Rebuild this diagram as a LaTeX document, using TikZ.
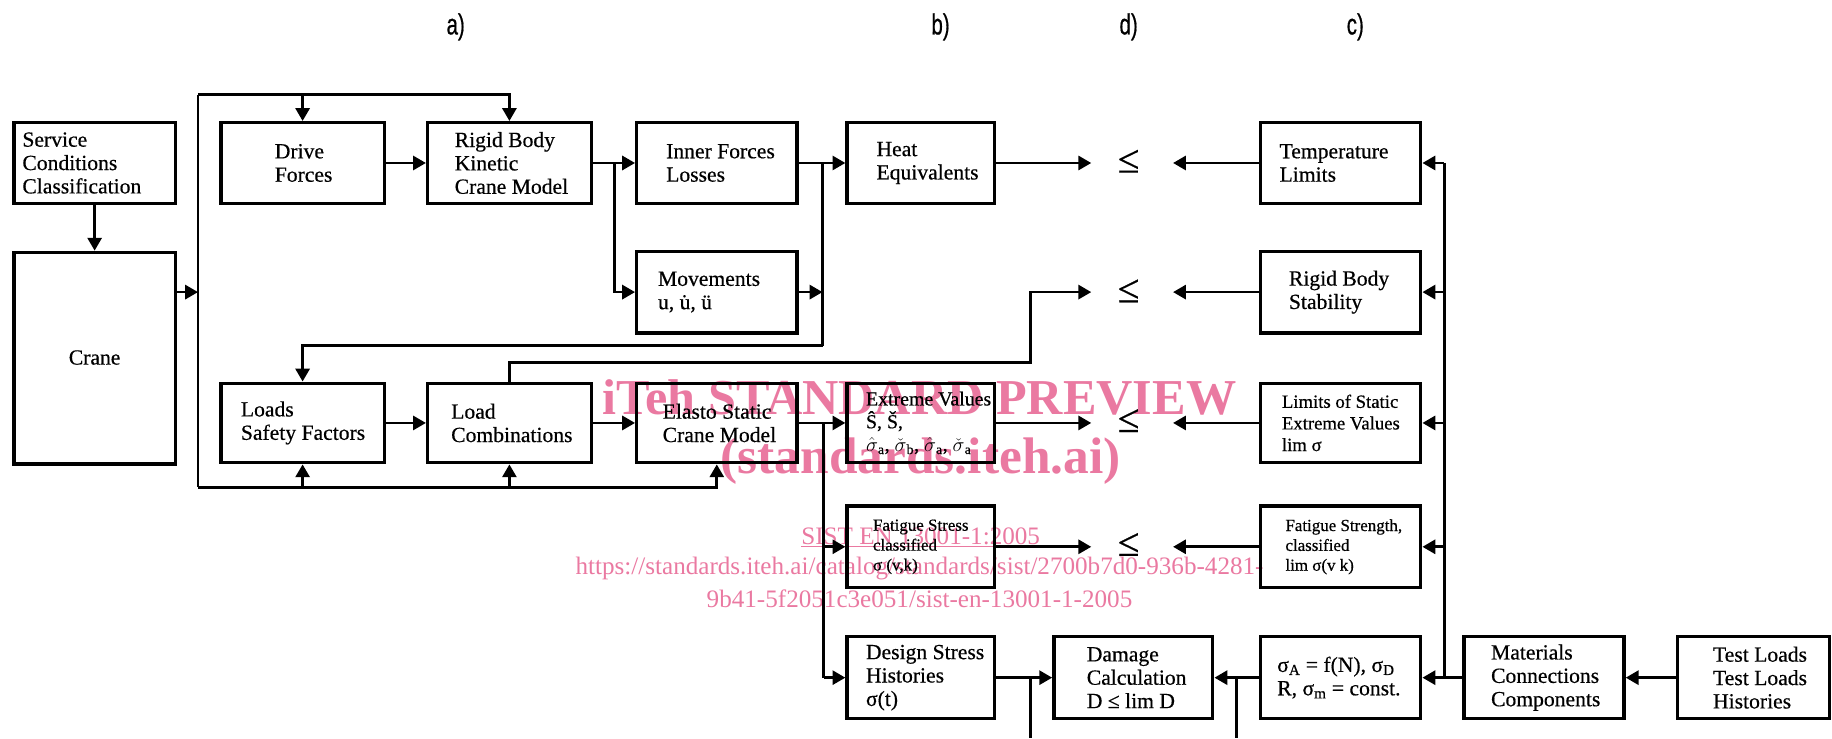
\documentclass[tikz,border=0pt]{standalone}
\usepackage{fontspec}
\setmainfont{Liberation Serif}[FakeBold=0.5]
\newfontfamily\wmfont{Liberation Serif}
\newfontfamily\labelfont{Liberation Sans}[FakeBold=0.8]
\usetikzlibrary{arrows.meta,fit}
\definecolor{wm}{RGB}{234,121,161}
\newcommand\hs{\ensuremath{\hat{\sigma}}}
\newcommand\cs{\ensuremath{\check{\sigma}}}
\tikzset{
  box/.style={draw, line width=2.9pt, inner sep=0pt},
  txt/.style={anchor=west, align=left, inner sep=0pt, font=\fontsize{18.5}{20}\selectfont},
  mid/.style={font=\fontsize{17}{19.5}\selectfont},
  small/.style={font=\fontsize{16}{18.5}\selectfont},
  tiny/.style={font=\fontsize{14.5}{17}\selectfont},
  conn/.style={line width=2.4pt},
  arr/.style={conn, -{Triangle[length=11pt,width=12pt]}},
  leq/.style={font=\fontsize{34}{34}\selectfont, inner sep=0pt},
  lab/.style={font=\labelfont\fontsize{25}{25}\selectfont, xscale=0.7, inner sep=0pt},
  wmark/.style={text=wm, inner sep=0pt, anchor=base},
}
\begin{document}
\begin{tikzpicture}[x=1pt,y=-1pt]
\useasboundingbox (0,0) rectangle (1568,632);
% watermark
\node[wmark, font=\wmfont\bfseries\fontsize{43}{43}\selectfont] (wm1) at (787,355) {iTeh STANDARD PREVIEW};
\node[wmark, font=\wmfont\bfseries\fontsize{44}{44}\selectfont] (wm2) at (788,405) {(standards.iteh.ai)};
\node[wmark, font=\wmfont\fontsize{21.5}{21.5}\selectfont] (wm3) at (788,466) {\underline{SIST EN 13001-1:2005}};
\node[wmark, font=\wmfont\fontsize{21.5}{21.5}\selectfont] (wm4) at (787,492) {https://standards.iteh.ai/catalog/standards/sist/2700b7d0-936b-4281-};
\node[wmark, font=\wmfont\fontsize{21.5}{21.5}\selectfont] (wm5) at (787,519.6) {9b41-5f2051c3e051/sist-en-13001-1-2005};
% column labels
\node[lab] (la) at (390,23) {a)};
\node[lab] (lb) at (805,23) {b)};
\node[lab] (ld) at (966,23) {d)};
\node[lab] (lc) at (1160,23) {c)};
% boxes
\node[box, fit={(12,105) (150,174)}] (service) {};
\node[box, fit={(12,216) (150,397)}] (crane) {};
\node[box, fit={(189,105) (329,174)}] (drive) {};
\node[box, fit={(366,105) (506,174)}] (rigid) {};
\node[box, fit={(545,105) (682,174)}] (inner) {};
\node[box, fit={(545,215) (682,285)}] (move) {};
\node[box, fit={(725,105) (851,174)}] (heat) {};
\node[box, fit={(1079,105) (1216,174)}] (temp) {};
\node[box, fit={(1079,215) (1216,285)}] (stab) {};
\node[box, fit={(189,328) (329,396)}] (loads) {};
\node[box, fit={(366,328) (506,396)}] (comb) {};
\node[box, fit={(545,328) (682,396)}] (elasto) {};
\node[box, fit={(725,328) (851,396)}] (extreme) {};
\node[box, fit={(1079,328) (1216,396)}] (limits) {};
\node[box, fit={(725,433) (851,503)}] (fstress) {};
\node[box, fit={(1079,433) (1216,503)}] (fstrength) {};
\node[box, fit={(725,545) (851,615)}] (design) {};
\node[box, fit={(902,545) (1038,615)}] (damage) {};
\node[box, fit={(1079,545) (1216,615)}] (sn) {};
\node[box, fit={(1253,545) (1390,615)}] (mat) {};
\node[box, fit={(1436,545) (1566,615)}] (test) {};
% texts
\node[txt] (service-t) at (19,139.5) {Service\\Conditions\\Classification};
\node[txt, anchor=center] (crane-t) at (81,306) {Crane};
\node[txt] (drive-t) at (235,139.5) {Drive\\Forces};
\node[txt] (rigid-t) at (389,139.5) {Rigid Body\\Kinetic\\Crane Model};
\node[txt] (inner-t) at (570,139.5) {Inner Forces\\Losses};
\node[txt] (move-t) at (563,250) {Movements\\u, u̇, ü};
\node[txt] (heat-t) at (750,139.5) {Heat\\Equivalents};
\node[txt] (temp-t) at (1095,139.5) {Temperature\\Limits};
\node[txt] (stab-t) at (1103,250) {Rigid Body\\Stability};
\node[txt] (loads-t) at (206,362) {Loads\\Safety Factors};
\node[txt] (comb-t) at (386,362) {Load\\Combinations};
\node[txt] (elasto-t) at (567,362) {Elasto Static\\Crane Model};
\node[txt, mid] (extreme-t) at (741,362) {Extreme Values\\Ŝ, Š,\\\hs\textsubscript{a}, \cs\textsubscript{b}, \hs\textsubscript{a}, \cs\textsubscript{a}};
\node[txt, small] (limits-t) at (1097,362) {Limits of Static\\Extreme Values\\lim σ};
\node[txt, tiny] (fstress-t) at (747,468) {Fatigue Stress\\classified\\σ (v,k)};
\node[txt, tiny] (fstrength-t) at (1100,468) {Fatigue Strength,\\classified\\lim σ(v k)};
\node[txt] (design-t) at (741,580) {Design Stress\\Histories\\σ(t)};
\node[txt] (damage-t) at (930,580) {Damage\\Calculation\\D ≤ lim D};
\node[txt] (sn-t) at (1093,580) {σ\textsubscript{A} = f(N), σ\textsubscript{D}\\R, σ\textsubscript{m} = const.};
\node[txt] (mat-t) at (1276,580) {Materials\\Connections\\Components};
\node[txt] (test-t) at (1466,580) {Test Loads\\Test Loads\\Histories};
% comparison signs
\node[leq] (le1) at (966,138) {≤};
\node[leq] (le2) at (966,249) {≤};
\node[leq] (le3) at (966,360) {≤};
\node[leq] (le4) at (966,466) {≤};
\coordinate (l1in) at (934,139.5);  \coordinate (l1out) at (1004,139.5);
\coordinate (l2in) at (934,250);    \coordinate (l2out) at (1004,250);
\coordinate (l3in) at (934,362);    \coordinate (l3out) at (1004,362);
\coordinate (l4in) at (934,468);    \coordinate (l4out) at (1004,468);
% junction coordinates
\coordinate (J0) at (169.5,250);
\coordinate (TL) at (169.5,81);
\coordinate (BL) at (169.5,417);
\coordinate (J1) at (526,139.5);
\coordinate (J2) at (704,139.5);
\coordinate (J2b) at (704,296);
\coordinate (J3) at (882,310);
\coordinate (J4) at (705,362);
\coordinate (J4b) at (705,580);
\coordinate (J5) at (882,580);
\coordinate (J5b) at (882,632);
\coordinate (J6) at (1058,580);
\coordinate (J6b) at (1058,632);
\coordinate (R1) at (1236,139.5);
\coordinate (R5) at (1236,580);
% connectors
\draw[arr] (service) -- (crane);
\draw[arr] (crane.east |- J0) -- (J0);
\draw[conn] (TL) -- (BL);
\draw[arr] (TL) -| (rigid.north);
\draw[arr] (drive.north |- TL) -- (drive.north);
\draw[arr] (BL) -| (elasto.south);
\draw[arr] (loads.south |- BL) -- (loads.south);
\draw[arr] (comb.south |- BL) -- (comb.south);
\draw[arr] (drive) -- (rigid);
\draw[arr] (rigid) -- (inner);
\draw[arr] (J1) |- (move.west);
\draw[arr] (inner) -- (heat);
\draw[conn] (J2) -- (J2b);
\draw[arr] (move.east) -- (move.east -| J2);
\draw[arr] (J2b) -| (loads.north);
\draw[arr] (loads) -- (comb);
\draw[arr] (comb) -- (elasto);
\draw[arr] (elasto) -- (extreme);
\draw[arr] (comb.north) |- (J3) |- (l2in);
\draw[conn] (J4) -- (J4b);
\draw[arr] (J4) |- (fstress.west);
\draw[arr] (J4b) -- (design.west);
\draw[arr] (heat.east) -- (l1in);
\draw[arr] (extreme.east) -- (l3in);
\draw[arr] (fstress.east) -- (l4in);
\draw[arr] (design) -- (damage);
\draw[conn] (J5) -- (J5b);
\draw[arr] (sn) -- (damage);
\draw[conn] (J6) -- (J6b);
\draw[arr] (temp.west) -- (l1out);
\draw[arr] (stab.west) -- (l2out);
\draw[arr] (limits.west) -- (l3out);
\draw[arr] (fstrength.west) -- (l4out);
\draw[conn] (R1) -- (R5);
\draw[arr] (R1) -- (temp.east);
\draw[arr] (R1 |- stab.east) -- (stab.east);
\draw[arr] (R1 |- limits.east) -- (limits.east);
\draw[arr] (R1 |- fstrength.east) -- (fstrength.east);
\draw[arr] (mat) -- (sn);
\draw[arr] (test) -- (mat);
\end{tikzpicture}
\end{document}
